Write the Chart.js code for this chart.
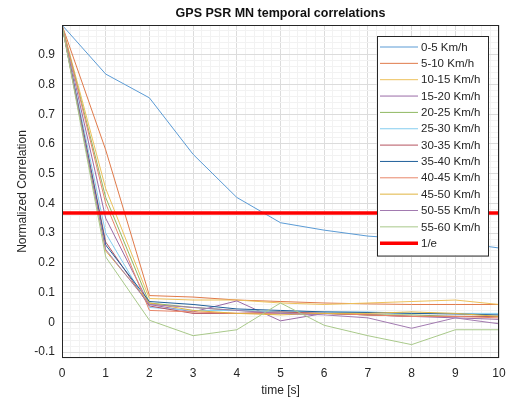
<!DOCTYPE html>
<html>
<head>
<meta charset="utf-8">
<script src="https://cdn.jsdelivr.net/npm/chart.js@4.4.1/dist/chart.umd.min.js"></script>
<style>
  html,body{margin:0;padding:0;background:#fff;}
  #wrap{width:509px;height:407px;}
</style>
</head>
<body>
<div id="wrap"><canvas id="corr"></canvas></div>
<script>
// ===== 数据 =====
const times = [0,1,2,3,4,5,6,7,8,9,10];
const speedLabels = ["0-5 Km/h","5-10 Km/h","10-15 Km/h","15-20 Km/h","20-25 Km/h","25-30 Km/h",
  "30-35 Km/h","35-40 Km/h","40-45 Km/h","45-50 Km/h","50-55 Km/h","55-60 Km/h"];
const v0_5   = [1, 0.835, 0.755, 0.565, 0.42, 0.335, 0.31, 0.29, 0.28, 0.27, 0.25];
const v5_10  = [1, 0.58, 0.09, 0.085, 0.075, 0.07, 0.065, 0.062, 0.06, 0.06, 0.06];
const v10_15 = [1, 0.45, 0.08, 0.075, 0.075, 0.065, 0.06, 0.065, 0.07, 0.075, 0.06];
const v15_20 = [1, 0.35, 0.06, 0.035, 0.072, 0.005, 0.03, 0.025, 0.02, 0.015, 0.01];
const v20_25 = [1, 0.42, 0.065, 0.05, 0.04, 0.035, 0.03, 0.025, 0.025, 0.02, 0.02];
const v25_30 = [1, 0.30, 0.05, 0.04, 0.04, 0.035, 0.035, 0.035, 0.03, 0.03, 0.03];
const v30_35 = [1, 0.27, 0.055, 0.03, 0.03, 0.035, 0.03, 0.025, 0.02, 0.02, 0.02];
const v35_40 = [1, 0.26, 0.07, 0.06, 0.045, 0.04, 0.035, 0.033, 0.03, 0.028, 0.025];
const v40_45 = [1, 0.40, 0.04, 0.035, 0.03, 0.03, 0.03, 0.025, 0.02, 0.02, 0.015];
const v45_50 = [1, 0.24, 0.065, 0.04, 0.03, 0.025, 0.03, 0.03, 0.035, 0.03, 0.02];
const v50_55 = [1, 0.245, 0.06, 0.05, 0.04, 0.03, 0.025, 0.015, -0.02, 0.015, -0.005];
const v55_60 = [1, 0.22, 0.007, -0.045, -0.025, 0.065, -0.01, -0.045, -0.075, -0.025, -0.025];
const seriesVals = [v0_5,v5_10,v10_15,v15_20,v20_25,v25_30,v30_35,v35_40,v40_45,v45_50,v50_55,v55_60];
const invE = 1/Math.E;
const eLine = [invE, invE];
const eTimes = [0, 10];

// MATLAB 默认配色（循环，略淡）
const colors = ["#5b9bd5","#e07a4a","#edc15a","#9a6aa6","#8fb861","#84cdef","#b5525f",
  "#1f5f9a","#e8866a","#e0b440","#a27ab0","#a9c98a"];

const datasets = seriesVals.map((vals,i)=>({
  label: speedLabels[i],
  data: times.map((t,k)=>({x:t, y:vals[k]})),
  borderColor: colors[i],
  borderWidth: 1,
  pointRadius: 0,
  tension: 0,
  order: 20 - i
}));
datasets.push({
  label: "1/e",
  data: eTimes.map((t,k)=>({x:t, y:eLine[k]})),
  borderColor: "#ff0000",
  borderWidth: 3.5,
  pointRadius: 0,
  order: 0
});

const isInt = v => Math.abs(v - Math.round(v)) < 1e-6;
const isTenth = v => Math.abs(v*10 - Math.round(v*10)) < 1e-6;

// 外框 + 标题 + 图例
const frame = {
  id: "frame",
  afterDraw(chart){
    const {ctx, chartArea:a} = chart;
    ctx.save();
    ctx.strokeStyle = "#262626";
    ctx.lineWidth = 1;
    ctx.strokeRect(a.left+0.5, a.top+0.5, a.right-a.left-1, a.bottom-a.top-1);
    // 标题
    ctx.fillStyle = "#111";
    ctx.font = "bold 12.5px 'Liberation Sans', Arial, sans-serif";
    ctx.textAlign = "center"; ctx.textBaseline = "middle";
    ctx.fillText("GPS PSR MN temporal correlations", (a.left+a.right)/2, 14);
    // 图例
    const bx = 377, by = 36, bw = 111, rowH = 16.35;
    const n = chart.data.datasets.length;
    const bh = rowH*n + 7;
    ctx.fillStyle = "#fff";
    ctx.fillRect(bx, by, bw, bh);
    ctx.strokeStyle = "#262626";
    ctx.strokeRect(bx+0.5, by+0.5, bw, bh);
    ctx.font = "11.5px 'Liberation Sans', Arial, sans-serif";
    ctx.textAlign = "left";
    chart.data.datasets.forEach((d,i)=>{
      const y = by + 11 + i*rowH;
      ctx.strokeStyle = d.borderColor;
      ctx.lineWidth = d.borderWidth;
      ctx.beginPath(); ctx.moveTo(bx+3, y); ctx.lineTo(bx+41, y); ctx.stroke();
      ctx.fillStyle = "#262626";
      ctx.fillText(d.label, bx+44, y+0.5);
    });
    ctx.restore();
  }
};

new Chart(document.getElementById("corr"), {
  type: "line",
  data: { datasets },
  plugins: [frame],
  options: {
    responsive: true, maintainAspectRatio: false, animation: false,
    layout: { padding: { top: 25, right: 10, left: 0, bottom: 0 } },
    plugins: { legend: { display: false }, tooltip: { enabled: false } },
    scales: {
      x: {
        type: "linear", min: 0, max: 10,
        afterFit(s){ s.height = 49; s.paddingLeft = 0; s.paddingRight = 0; },
        ticks: {
          stepSize: 0.2, maxTicksLimit: 1000, autoSkip: false, maxRotation: 0,
          color: "#262626", padding: 8,
          font: { size: 12, family: "'Liberation Sans', Arial, sans-serif" },
          callback: v => isInt(v) ? String(Math.round(v)) : ""
        },
        grid: {
          drawTicks: false,
          color: c => isInt(c.tick.value) ? "#dcdcdc" : "#f2f2f2"
        },
        border: { display: false },
        title: {
          display: true, text: "time [s]", color: "#262626", padding: { top: 2, bottom: 9 },
          font: { size: 12, family: "'Liberation Sans', Arial, sans-serif" }
        }
      },
      y: {
        min: -0.12, max: 1,
        afterFit(s){ s.width = 62; s.paddingTop = 0; s.paddingBottom = 0; },
        ticks: {
          stepSize: 0.02, maxTicksLimit: 1000, autoSkip: false,
          color: "#262626", padding: 7,
          font: { size: 12, family: "'Liberation Sans', Arial, sans-serif" },
          callback: v => {
            if (!isTenth(v) || v > 0.95) return "";
            const r = Math.round(v*10)/10;
            return r === 0 ? "0" : r.toFixed(1);
          }
        },
        grid: {
          drawTicks: false,
          color: c => isTenth(c.tick.value) ? "#dcdcdc" : "#f2f2f2"
        },
        border: { display: false },
        title: {
          display: true, text: "Normalized Correlation", color: "#262626", padding: { top: 15, bottom: 4 },
          font: { size: 12, family: "'Liberation Sans', Arial, sans-serif" }
        }
      }
    }
  }
});
</script>
</body>
</html>
